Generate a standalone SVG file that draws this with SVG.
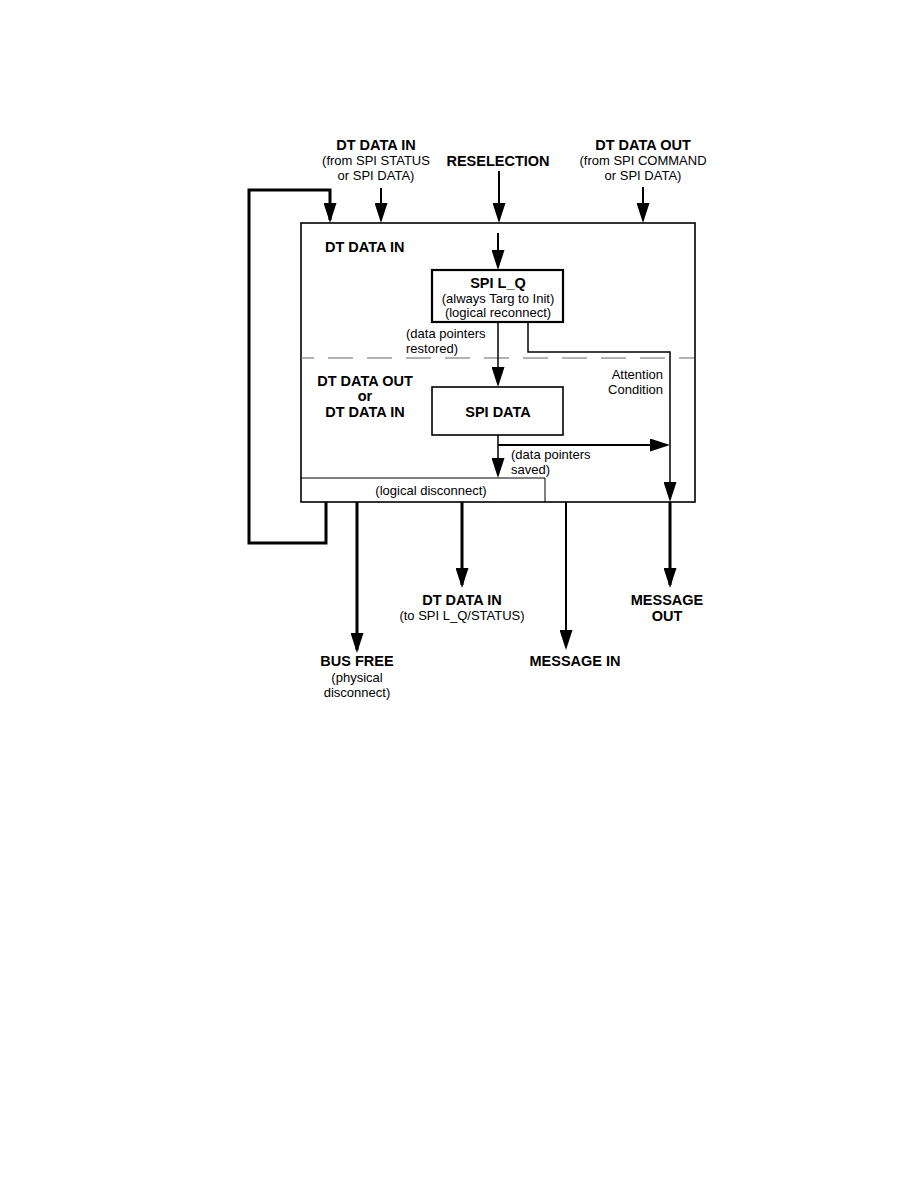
<svg xmlns="http://www.w3.org/2000/svg" width="918" height="1188" viewBox="0 0 918 1188">
<style>
text{font-family:"Liberation Sans",Arial,sans-serif;fill:#000}
.b{font-weight:bold;font-size:14.5px}
.n{font-size:13px}
.m{text-anchor:middle}
.box{fill:none;stroke:#000}
.ln{fill:none;stroke:#000}
</style>
<defs>
<marker id="ah" markerUnits="userSpaceOnUse" markerWidth="20" markerHeight="13" refX="17" refY="6.5" orient="auto" viewBox="0 0 20 13">
<path d="M0,0 L20,6.5 L0,13 z" fill="#000"/>
</marker>
</defs>
<rect width="918" height="1188" fill="#fff"/>

<g id="main-box">
<rect class="box" x="301" y="223" width="394" height="279" stroke-width="1.6"/>
<line x1="301" y1="358" x2="694" y2="358" stroke="#666" stroke-width="1" stroke-dasharray="25 14" stroke-dashoffset="12"/>
<text class="b" x="325" y="252">DT DATA IN</text>
<text class="b m" x="365" y="386">DT DATA OUT</text>
<text class="b m" x="365" y="401">or</text>
<text class="b m" x="365" y="417">DT DATA IN</text>
</g>

<g id="logical-disconnect">
<path class="box" d="M301,478 H545 V502" stroke-width="1"/>
<text class="n m" x="431" y="495">(logical disconnect)</text>
</g>

<g id="spi-lq">
<rect class="box" x="432" y="270" width="131" height="52" stroke-width="2.2"/>
<text class="b m" x="498" y="288">SPI L_Q</text>
<text class="n m" x="498" y="303">(always Targ to Init)</text>
<text class="n m" x="498" y="317">(logical reconnect)</text>
</g>

<g id="spi-data">
<rect class="box" x="432" y="387" width="131" height="48" stroke-width="1.6"/>
<text class="b m" x="498" y="417">SPI DATA</text>
</g>

<g id="labels">
<text class="b m" x="376" y="150">DT DATA IN</text>
<text class="n m" x="376" y="165">(from SPI STATUS</text>
<text class="n m" x="376" y="180">or SPI DATA)</text>
<text class="b m" x="498" y="166">RESELECTION</text>
<text class="b m" x="643" y="150">DT DATA OUT</text>
<text class="n m" x="643" y="165">(from SPI COMMAND</text>
<text class="n m" x="643" y="180">or SPI DATA)</text>
<text class="n" x="406" y="338">(data pointers</text>
<text class="n" x="406" y="353">restored)</text>
<text class="n" x="663" y="379" text-anchor="end">Attention</text>
<text class="n" x="663" y="394" text-anchor="end">Condition</text>
<text class="n" x="511" y="459">(data pointers</text>
<text class="n" x="511" y="474">saved)</text>
<text class="b m" x="357" y="666">BUS FREE</text>
<text class="n m" x="357" y="682">(physical</text>
<text class="n m" x="357" y="697">disconnect)</text>
<text class="b m" x="462" y="605">DT DATA IN</text>
<text class="n m" x="462" y="620">(to SPI L_Q/STATUS)</text>
<text class="b m" x="575" y="666">MESSAGE IN</text>
<text class="b m" x="667" y="605">MESSAGE</text>
<text class="b m" x="667" y="621">OUT</text>
</g>

<g id="connectors">
<path class="ln" d="M326,502 V543 H249 V190 H330 V220" stroke-width="3" marker-end="url(#ah)"/>
<line class="ln" x1="381" y1="188" x2="381" y2="220" stroke-width="2" marker-end="url(#ah)"/>
<line class="ln" x1="499" y1="171" x2="499" y2="220" stroke-width="2" marker-end="url(#ah)"/>
<line class="ln" x1="643" y1="187" x2="643" y2="220" stroke-width="2" marker-end="url(#ah)"/>
<line class="ln" x1="498" y1="233" x2="498" y2="267" stroke-width="2" marker-end="url(#ah)"/>
<line class="ln" x1="498" y1="322" x2="498" y2="384" stroke-width="1.5" marker-end="url(#ah)"/>
<path class="ln" d="M528,322 V352 H670 V499" stroke-width="1.5" marker-end="url(#ah)"/>
<line class="ln" x1="498" y1="435" x2="498" y2="475" stroke-width="1.5" marker-end="url(#ah)"/>
<line class="ln" x1="498" y1="445" x2="667" y2="445" stroke-width="2" marker-end="url(#ah)"/>
<line class="ln" x1="357" y1="502" x2="357" y2="650" stroke-width="3" marker-end="url(#ah)"/>
<line class="ln" x1="462" y1="502" x2="462" y2="585" stroke-width="3" marker-end="url(#ah)"/>
<line class="ln" x1="566" y1="502" x2="566" y2="647" stroke-width="2" marker-end="url(#ah)"/>
<line class="ln" x1="670" y1="502" x2="670" y2="585" stroke-width="3" marker-end="url(#ah)"/>
</g>
</svg>
